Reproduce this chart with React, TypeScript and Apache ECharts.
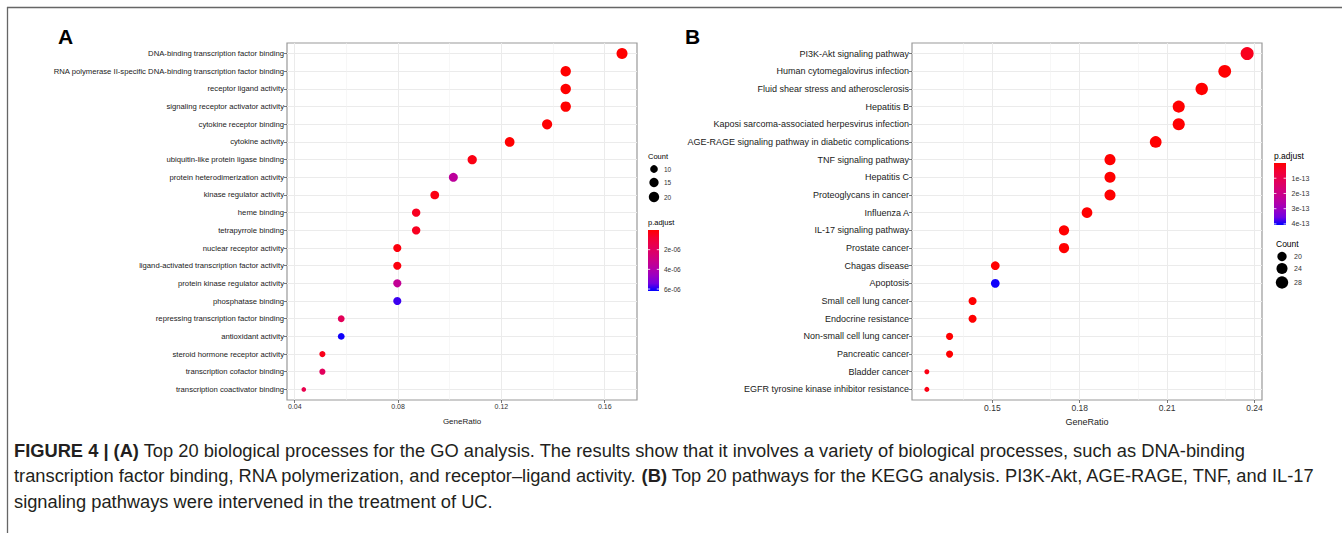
import React, { useEffect, useRef } from 'react';
import * as echarts from 'echarts';

// ---------- Panel A: GO ----------
const goTerms = [
  'DNA-binding transcription factor binding',
  'RNA polymerase II-specific DNA-binding transcription factor binding',
  'receptor ligand activity',
  'signaling receptor activator activity',
  'cytokine receptor binding',
  'cytokine activity',
  'ubiquitin-like protein ligase binding',
  'protein heterodimerization activity',
  'kinase regulator activity',
  'heme binding',
  'tetrapyrrole binding',
  'nuclear receptor activity',
  'ligand-activated transcription factor activity',
  'protein kinase regulator activity',
  'phosphatase binding',
  'repressing transcription factor binding',
  'antioxidant activity',
  'steroid hormone receptor activity',
  'transcription cofactor binding',
  'transcription coactivator binding',
];
const goGeneRatio = [0.1667, 0.1449, 0.1449, 0.1449, 0.1377, 0.1232, 0.1087, 0.1014, 0.0942, 0.087, 0.087, 0.0797, 0.0797, 0.0797, 0.0797, 0.058, 0.058, 0.0507, 0.0507, 0.0435];
const goCount = [23, 20, 20, 20, 19, 17, 15, 14, 13, 12, 12, 11, 11, 11, 11, 8, 8, 7, 7, 6];
const goPadjust = [1e-9, 2e-9, 5e-9, 5e-9, 5e-8, 1e-8, 3e-7, 3.6e-6, 3e-7, 5e-7, 5e-7, 2e-7, 2e-7, 3.4e-6, 5.8e-6, 1.8e-6, 6.1e-6, 4e-7, 1.9e-6, 1.5e-6];
const goTicks = [0.04, 0.08, 0.12, 0.16];
const goMinorTicks = [0.06, 0.1, 0.14];
const goCountLegend = [10, 15, 20];
const goPadjLegend = [2e-6, 4e-6, 6e-6];
const goPadjLabels = ['2e-06', '4e-06', '6e-06'];

// ---------- Panel B: KEGG ----------
const keggTerms = [
  'PI3K-Akt signaling pathway',
  'Human cytomegalovirus infection',
  'Fluid shear stress and atherosclerosis',
  'Hepatitis B',
  'Kaposi sarcoma-associated herpesvirus infection',
  'AGE-RAGE signaling pathway in diabetic complications',
  'TNF signaling pathway',
  'Hepatitis C',
  'Proteoglycans in cancer',
  'Influenza A',
  'IL-17 signaling pathway',
  'Prostate cancer',
  'Chagas disease',
  'Apoptosis',
  'Small cell lung cancer',
  'Endocrine resistance',
  'Non-small cell lung cancer',
  'Pancreatic cancer',
  'Bladder cancer',
  'EGFR tyrosine kinase inhibitor resistance',
];
const keggGeneRatio = [0.2375, 0.2298, 0.2219, 0.2140, 0.2140, 0.2061, 0.1904, 0.1904, 0.1904, 0.1825, 0.1746, 0.1746, 0.1510, 0.1510, 0.1432, 0.1432, 0.1353, 0.1353, 0.1275, 0.1275];
const keggCount = [30, 29, 28, 27, 27, 26, 24, 24, 24, 23, 22, 22, 19, 19, 18, 18, 17, 17, 16, 16];
const keggPadjust = [3e-14, 1e-15, 1e-15, 1e-15, 2e-15, 1e-15, 1e-15, 1e-15, 1e-15, 1e-15, 1e-15, 1e-15, 1e-15, 4e-13, 1e-15, 1e-15, 1e-15, 1e-15, 2e-14, 2e-14];
const keggTicks = [0.15, 0.18, 0.21, 0.24];
const keggMinorTicks = [0.135, 0.165, 0.195, 0.225];
const keggCountLegend = [20, 24, 28];
const keggPadjLegend = [1e-13, 2e-13, 3e-13, 4e-13];
const keggPadjLabels = ['1e-13', '2e-13', '3e-13', '4e-13'];

const COLORS = ['#FF0000', '#F40031', '#E8004F', '#DA006C', '#CA0089', '#B500A5', '#9A00C3', '#7300E1', '#0000FF'];
const FONT = '"Liberation Sans", Arial, Helvetica, sans-serif';

const sizeA = (c: number) => 4.6 + 6.4 * Math.sqrt(Math.max(0, c - 6) / 17);
const sizeB = (c: number) => 5 + 8 * Math.sqrt(Math.max(0, c - 16) / 14);

const BOX_TOP = 43;
const BOX_H = 357;
const UNIT = BOX_H / 20.2;
const DATA_TOP = BOX_TOP + 0.6 * UNIT;
const DATA_H = 19 * UNIT;

const A = { left: 287, width: 350, min: 0.037, max: 0.1725 };
const B = { left: 912, width: 350, min: 0.1224, max: 0.2426 };

function colorbar(x: number, y0: number, y1: number, w: number, vmax: number, ticks: number[], labels: string[], labelX: number, fs: number, title: string, titleY: number, tfs: number) {
  const els: any[] = [];
  els.push({
    type: 'text', x, y: titleY,
    style: { text: title, fontSize: tfs, fontFamily: FONT, fill: '#000', align: 'left', verticalAlign: 'middle' },
  });
  els.push({
    type: 'rect', shape: { x, y: y0, width: w, height: y1 - y0 },
    style: {
      fill: {
        type: 'linear', x: 0, y: 0, x2: 0, y2: 1,
        colorStops: COLORS.map((c, i) => ({ offset: i / (COLORS.length - 1), color: c })),
      },
    },
  });
  ticks.forEach((t, i) => {
    const yy = y0 + (t / vmax) * (y1 - y0);
    els.push({ type: 'line', shape: { x1: x, y1: yy, x2: x + w * 0.2, y2: yy }, style: { stroke: '#fff', lineWidth: 0.8 } });
    els.push({ type: 'line', shape: { x1: x + w * 0.8, y1: yy, x2: x + w, y2: yy }, style: { stroke: '#fff', lineWidth: 0.8 } });
    els.push({
      type: 'text', x: labelX, y: yy,
      style: { text: labels[i], fontSize: fs, fontFamily: FONT, fill: '#333', align: 'left', verticalAlign: 'middle' },
    });
  });
  return els;
}

function countLegend(x: number, title: string, titleY: number, tfs: number, values: number[], ys: number[], sizeFn: (c: number) => number, labelX: number, fs: number) {
  const els: any[] = [];
  els.push({
    type: 'text', x: x - 6, y: titleY,
    style: { text: title, fontSize: tfs, fontFamily: FONT, fill: '#000', align: 'left', verticalAlign: 'middle' },
  });
  values.forEach((v, i) => {
    els.push({ type: 'circle', shape: { cx: x, cy: ys[i], r: sizeFn(v) / 2 }, style: { fill: '#000' } });
    els.push({
      type: 'text', x: labelX, y: ys[i],
      style: { text: String(v), fontSize: fs, fontFamily: FONT, fill: '#333', align: 'left', verticalAlign: 'middle' },
    });
  });
  return els;
}

function gridMarkLine(major: number[], minor: number[]) {
  return {
    silent: true,
    symbol: ['none', 'none'],
    label: { show: false },
    lineStyle: { color: '#EBEBEB', type: 'solid', width: 1 },
    data: [
      ...major.map((v) => ({ xAxis: v, lineStyle: { color: '#EBEBEB', width: 1, type: 'solid' } })),
      ...minor.map((v) => ({ xAxis: v, lineStyle: { color: '#F2F2F2', width: 0.6, type: 'solid' } })),
    ],
  };
}

export default function App() {
  const ref = useRef<HTMLDivElement>(null);
  useEffect(() => {
    if (!ref.current) return;
    const chart = echarts.init(ref.current, undefined, { renderer: 'svg' });

    const boxAxisX = (p: typeof A, ticks: number[], fs: number, nfs: number) => ({
      type: 'value', min: p.min, max: p.max,
      axisLine: { show: false },
      splitLine: { show: false },
      axisTick: { show: true, customValues: ticks, length: 3, lineStyle: { color: '#555', width: 0.8 } },
      axisLabel: { show: true, customValues: ticks, formatter: (v: number) => v.toFixed(2), fontSize: fs, color: '#333', margin: 3, fontFamily: FONT },
      name: 'GeneRatio', nameLocation: 'middle', nameGap: 17,
      nameTextStyle: { fontSize: nfs, color: '#222', fontFamily: FONT },
    });
    const hiddenX = (p: typeof A, gi: number) => ({ type: 'value', gridIndex: gi, min: p.min, max: p.max, show: false });
    const catY = (terms: string[], gi: number, fs: number) => ({
      type: 'category', gridIndex: gi, data: terms, inverse: true, boundaryGap: false,
      axisLine: { show: false },
      axisTick: { show: true, length: 3, lineStyle: { color: '#555', width: 0.8 } },
      axisLabel: { fontSize: fs, color: '#1a1a1a', margin: 3, fontFamily: FONT },
      splitLine: { show: true, lineStyle: { color: '#EBEBEB', width: 1 } },
    });

    const capStyle = { fontSize: 18.3, fontFamily: FONT, fill: '#231F20', verticalAlign: 'middle' };
    const capRich = { b: { fontWeight: 'bold', fontSize: 18.3, fontFamily: FONT, fill: '#231F20' } };

    const option: any = {
      animation: false,
      backgroundColor: '#fff',
      grid: [
        { left: A.left, top: BOX_TOP, width: A.width, height: BOX_H, show: true, borderColor: '#999', borderWidth: 1.2, backgroundColor: 'transparent' },
        { left: A.left, top: DATA_TOP, width: A.width, height: DATA_H },
        { left: B.left, top: BOX_TOP, width: B.width, height: BOX_H, show: true, borderColor: '#999', borderWidth: 1.2, backgroundColor: 'transparent' },
        { left: B.left, top: DATA_TOP, width: B.width, height: DATA_H },
      ],
      xAxis: [
        { ...boxAxisX(A, goTicks, 7, 8), gridIndex: 0 },
        hiddenX(A, 1),
        { ...boxAxisX(B, keggTicks, 8.5, 9), gridIndex: 2 },
        hiddenX(B, 3),
      ],
      yAxis: [
        { type: 'value', gridIndex: 0, min: 0, max: 1, show: false },
        catY(goTerms, 1, 7.7),
        { type: 'value', gridIndex: 2, min: 0, max: 1, show: false },
        catY(keggTerms, 3, 9),
      ],
      visualMap: [
        { type: 'continuous', show: false, seriesIndex: 0, dimension: 3, min: 0, max: 6.2e-6, inRange: { color: COLORS } },
        { type: 'continuous', show: false, seriesIndex: 1, dimension: 3, min: 0, max: 4.07e-13, inRange: { color: COLORS } },
      ],
      series: [
        {
          type: 'scatter', xAxisIndex: 1, yAxisIndex: 1, z: 5,
          data: goTerms.map((t, i) => [goGeneRatio[i], t, goCount[i], goPadjust[i]]),
          symbolSize: (v: any[]) => sizeA(v[2]),
          itemStyle: { opacity: 1 },
        },
        {
          type: 'scatter', xAxisIndex: 3, yAxisIndex: 3, z: 5,
          data: keggTerms.map((t, i) => [keggGeneRatio[i], t, keggCount[i], keggPadjust[i]]),
          symbolSize: (v: any[]) => sizeB(v[2]),
          itemStyle: { opacity: 1 },
        },
        {
          type: 'scatter', xAxisIndex: 0, yAxisIndex: 0, z: 1, symbolSize: 0,
          data: [[A.min, 0]], silent: true,
          markLine: gridMarkLine(goTicks, goMinorTicks),
        },
        {
          type: 'scatter', xAxisIndex: 2, yAxisIndex: 2, z: 1, symbolSize: 0,
          data: [[B.min, 0]], silent: true,
          markLine: gridMarkLine(keggTicks, keggMinorTicks),
        },
      ],
      graphic: [
        { type: 'line', shape: { x1: 7, y1: 7.5, x2: 1342, y2: 7.5 }, style: { stroke: '#666', lineWidth: 1.3 } },
        { type: 'line', shape: { x1: 7.5, y1: 7, x2: 7.5, y2: 533 }, style: { stroke: '#666', lineWidth: 1.3 } },
        { type: 'text', x: 58, y: 47, style: { text: 'A', fontSize: 21, fontWeight: 'bold', fontFamily: FONT, fill: '#000', align: 'left', verticalAlign: 'bottom' } },
        { type: 'text', x: 685, y: 47, style: { text: 'B', fontSize: 21, fontWeight: 'bold', fontFamily: FONT, fill: '#000', align: 'left', verticalAlign: 'bottom' } },
        ...countLegend(654, 'Count', 156, 7.5, goCountLegend, [169, 182.5, 197], sizeA, 664, 6.5),
        ...colorbar(648, 230, 291, 11, 6.2e-6, goPadjLegend, goPadjLabels, 664, 6.5, 'p.adjust', 222.5, 7.5),
        ...colorbar(1274, 163, 225, 12, 4.07e-13, keggPadjLegend, keggPadjLabels, 1291.5, 7, 'p.adjust', 155.5, 8.5),
        ...countLegend(1282, 'Count', 243.5, 8.5, keggCountLegend, [256.5, 268.5, 282.5], sizeB, 1294, 7),
        {
          type: 'text', x: 14, y: 450,
          style: {
            ...capStyle,
            text: '{b|FIGURE 4 | (A)} Top 20 biological processes for the GO analysis. The results show that it involves a variety of biological processes, such as DNA-binding',
            rich: capRich,
          },
        },
        {
          type: 'text', x: 14, y: 475.5,
          style: {
            ...capStyle,
            text: 'transcription factor binding, RNA polymerization, and receptor–ligand activity. {b|(B)} Top 20 pathways for the KEGG analysis. PI3K-Akt, AGE-RAGE, TNF, and IL-17',
            rich: capRich,
          },
        },
        {
          type: 'text', x: 14, y: 501,
          style: { ...capStyle, text: 'signaling pathways were intervened in the treatment of UC.' },
        },
      ],
    };
    chart.setOption(option);
    return () => chart.dispose();
  }, []);
  return <div ref={ref} style={{ position: 'absolute', left: 0, top: 0, width: 1342, height: 533 }} />;
}
